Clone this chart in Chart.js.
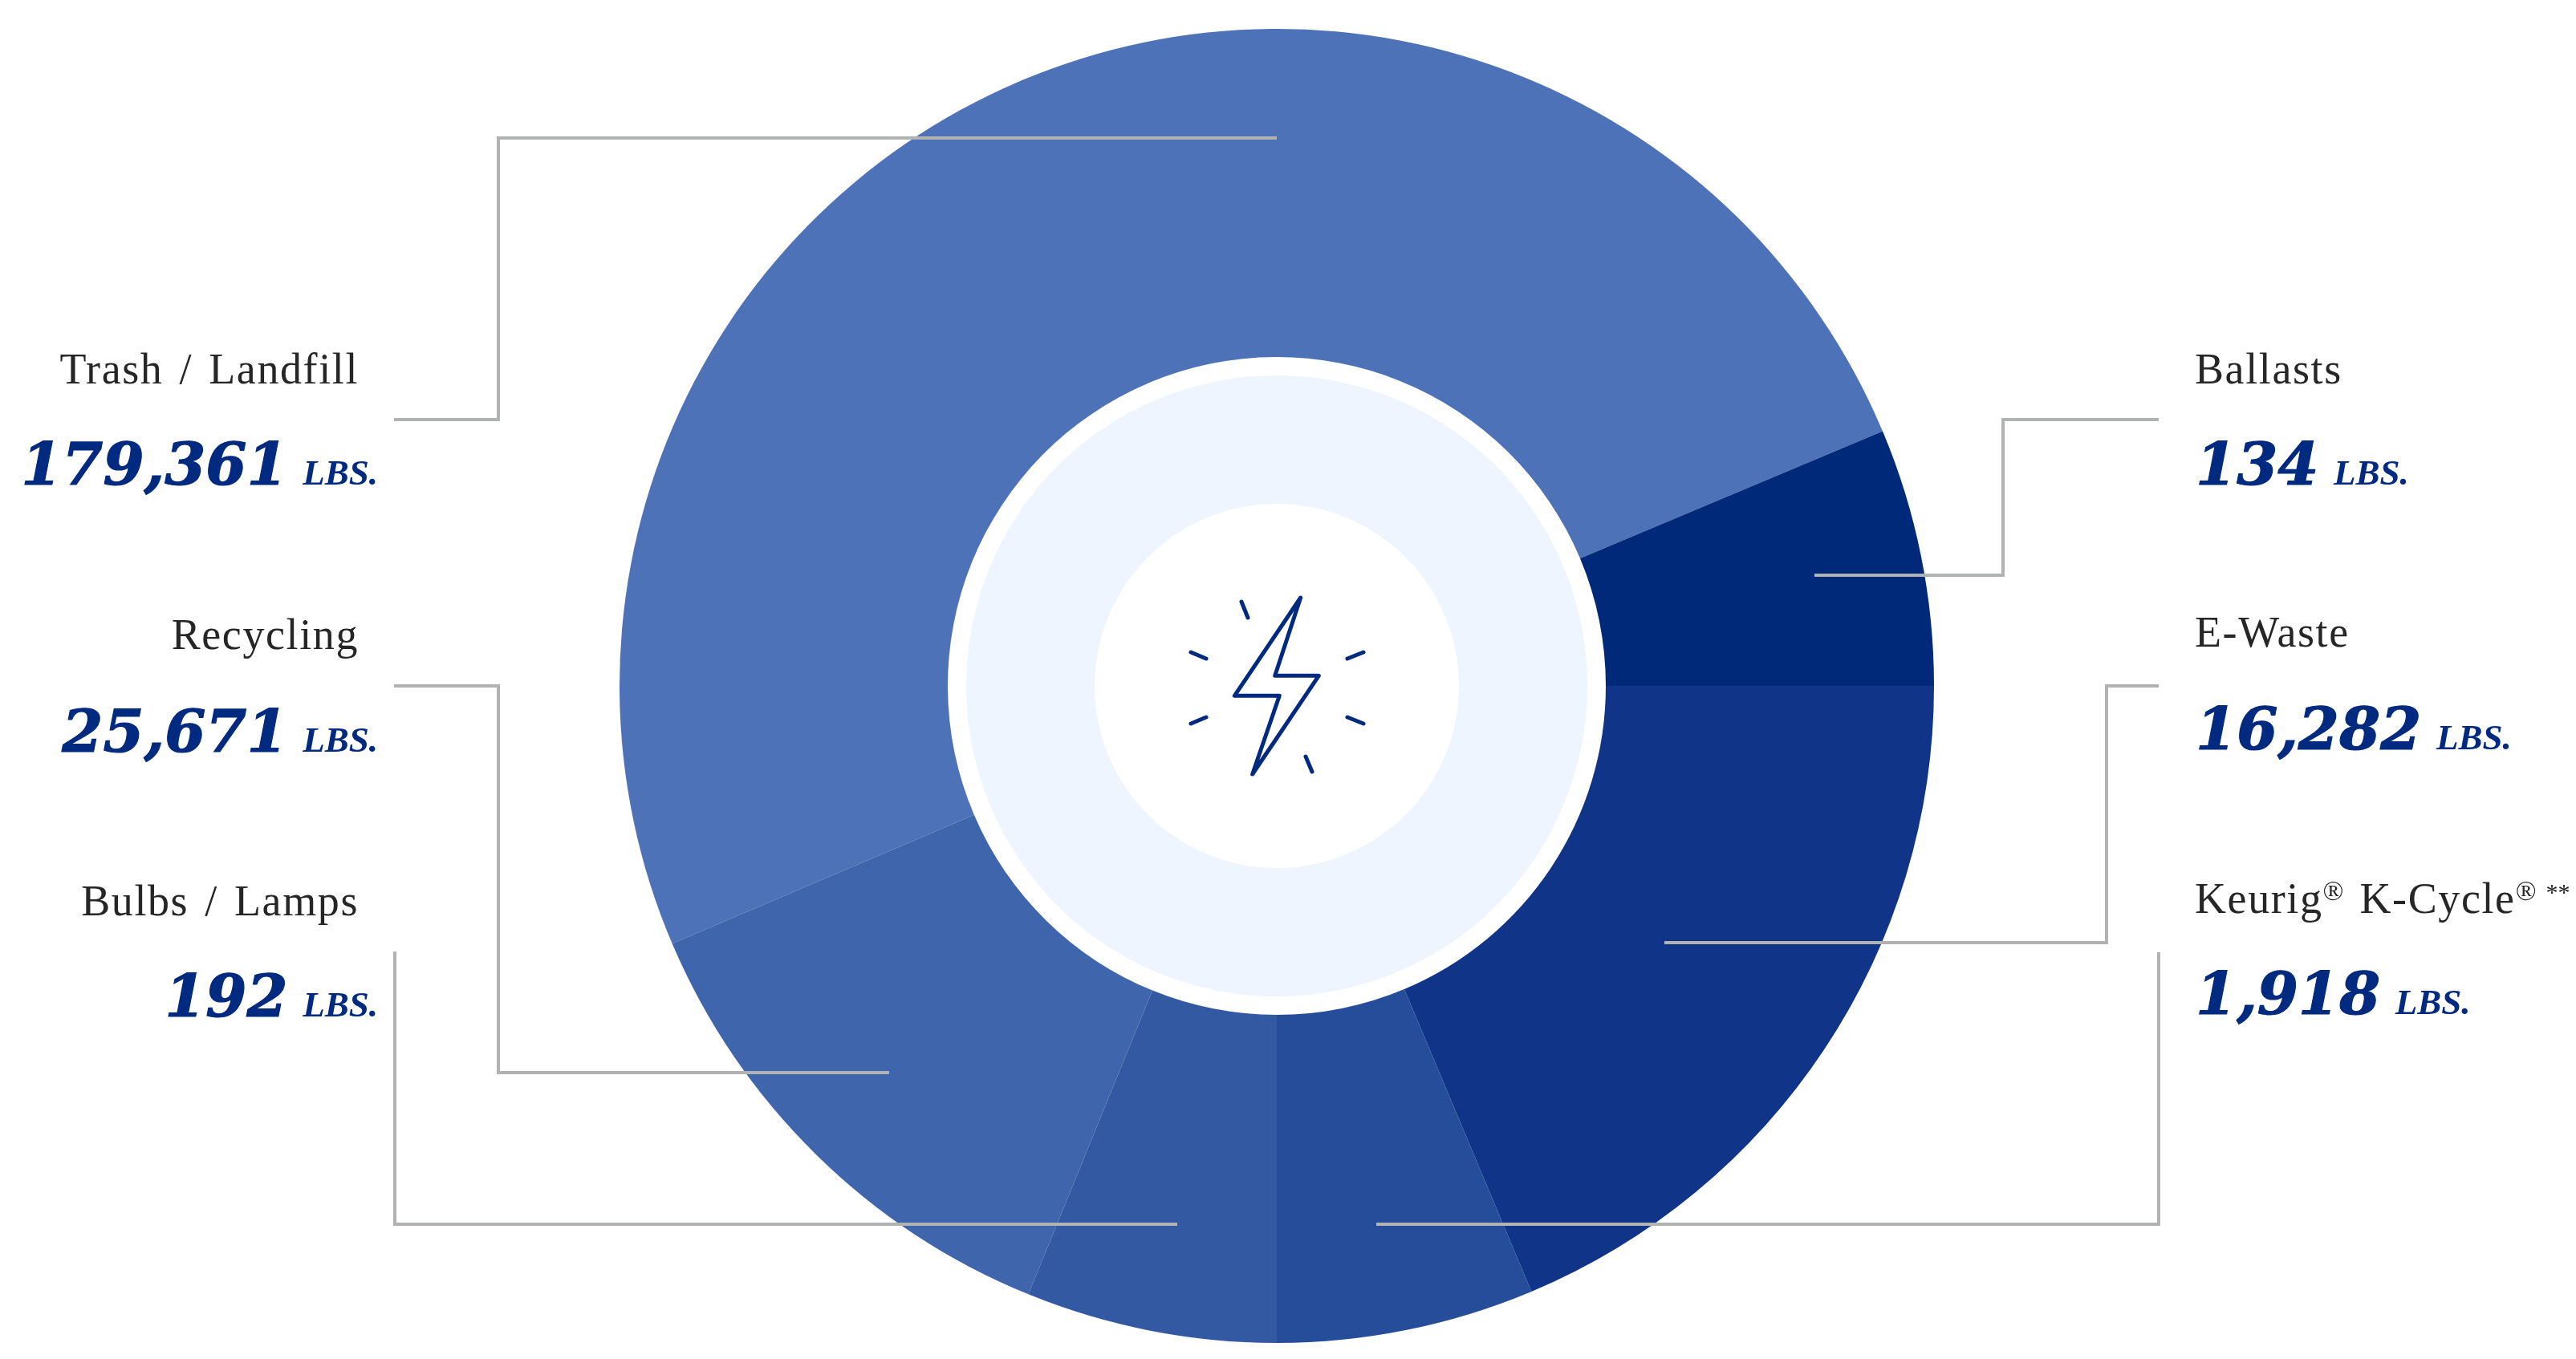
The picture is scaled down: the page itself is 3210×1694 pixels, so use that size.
<!DOCTYPE html>
<html>
<head>
<meta charset="utf-8">
<title>Waste by stream</title>
<script src="https://cdn.jsdelivr.net/npm/chart.js@4/dist/chart.umd.min.js"></script>
<style>
  html, body { margin: 0; background: #fff; }
  #wrap { position: relative; width: 3210px; height: 1694px; overflow: hidden; }
  canvas { position: absolute; left: 0; top: 0; }
  .lab, .num { position: absolute; white-space: nowrap; }
  .lab { font: 54px "Liberation Serif", serif; letter-spacing: 1.6px; word-spacing: 5px; color: #262626; }
  .lab sup { font-size: 34px; line-height: 0; vertical-align: 16px; letter-spacing: 0; }
  .lab sup.stars { font-size: 30px; margin-left: -8px; }
  .num { font: italic bold 73.5px "DejaVu Serif", serif; color: #002a7f; -webkit-text-stroke: 1.2px #002a7f; }
  .num span { font: italic bold 45px "Liberation Serif", serif; margin-left: -7px; -webkit-text-stroke: 0; }
</style>
</head>
<body>
<div id="wrap"><canvas id="chart" width="3210" height="1694"></canvas></div>
<script>
// clockwise from the start of the Trash slice
const categories = ["Trash / Landfill", "Ballasts", "E-Waste", "Keurig<sup>®</sup> K-Cycle<sup>®</sup> <sup class=\"stars\">**</sup>", "Bulbs / Lamps", "Recycling"];
const pounds = [179361, 134, 16282, 1918, 192, 25671];
// the slices in the picture are not proportional to the pounds, these are read off it
const sliceDegrees = [180.3, 22.8, 67.2, 22.8, 22.2, 44.7];
const sliceColors = ["#4e72b8", "#00297a", "#103588", "#264d9a", "#3359a3", "#3f65ac"];

// side, label baseline, number baseline
const labelSpots = [
  ["left", 477.5, 604],
  ["right", 477.5, 604],
  ["right", 806, 934],
  ["right", 1138, 1264],
  ["left", 1140.5, 1267],
  ["left", 809, 937]
];

// grey leader lines, page pixels
const leaders = [
  [[491, 523], [621, 523], [621, 172], [1591, 172]],
  [[491, 855], [621, 855], [621, 1337], [1108, 1337]],
  [[492, 1186], [492, 1526], [1467, 1526]],
  [[2690, 523], [2496, 523], [2496, 717], [2261, 717]],
  [[2690, 855], [2625, 855], [2625, 1175], [2074, 1175]],
  [[2690, 1187], [2690, 1526], [1715, 1526]]
];

// lightning icon, relative to the chart centre
const bolt = [[29.7, -110], [-52.7, 12.3], [3.3, 12.3], [-30.3, 110], [52.3, -12.7], [-2.3, -12.7]];
const rays = [
  [[-44, -105], [-36, -85]], [[-107, -42], [-88, -34]], [[-107, 47], [-88, 39]],
  [[108, -42], [88, -34]], [[108, 47], [88, 39]], [[36, 88], [44, 107]]
];

const centerPlugin = {
  id: "centerPlugin",
  beforeDatasetsDraw(chart) {
    const ctx = chart.ctx;
    const arc = chart.getDatasetMeta(0).data[0];
    ctx.save();
    ctx.fillStyle = "#eef5fe";
    ctx.beginPath();
    ctx.arc(arc.x, arc.y, 387, 0, Math.PI * 2);
    ctx.fill();
    ctx.fillStyle = "#ffffff";
    ctx.beginPath();
    ctx.arc(arc.x, arc.y, 227, 0, Math.PI * 2);
    ctx.fill();
    ctx.restore();
  },
  afterDatasetsDraw(chart) {
    const ctx = chart.ctx;
    const arc = chart.getDatasetMeta(0).data[0];
    ctx.save();
    // icon
    ctx.translate(arc.x, arc.y);
    ctx.strokeStyle = "#002a7f";
    ctx.lineWidth = 5;
    ctx.lineCap = "round";
    ctx.lineJoin = "round";
    ctx.beginPath();
    bolt.forEach((p, i) => i ? ctx.lineTo(p[0], p[1]) : ctx.moveTo(p[0], p[1]));
    ctx.closePath();
    ctx.stroke();
    rays.forEach(r => {
      ctx.beginPath();
      ctx.moveTo(r[0][0], r[0][1]);
      ctx.lineTo(r[1][0], r[1][1]);
      ctx.stroke();
    });
    ctx.restore();

    // leaders go over the slices
    ctx.save();
    ctx.strokeStyle = "#b1b3b3";
    ctx.lineWidth = 4;
    ctx.lineJoin = "miter";
    leaders.forEach(path => {
      ctx.beginPath();
      path.forEach((p, i) => i ? ctx.lineTo(p[0], p[1]) : ctx.moveTo(p[0], p[1]));
      ctx.stroke();
    });
    ctx.restore();
  }
};

new Chart(document.getElementById("chart").getContext("2d"), {
  type: "doughnut",
  data: {
    labels: categories,
    datasets: [{
      data: sliceDegrees,
      backgroundColor: sliceColors,
      borderWidth: 0
    }]
  },
  options: {
    responsive: false,
    animation: false,
    devicePixelRatio: 1,
    rotation: 246.9,
    cutout: 410,
    layout: { padding: { left: 772, right: 800, top: 36, bottom: 20 } },
    plugins: { legend: { display: false }, tooltip: { enabled: false } }
  },
  plugins: [centerPlugin]
});

// put an element so its text baseline sits on y
function setBaseline(el, y) {
  const strut = document.createElement("i");
  strut.style.cssText = "display:inline-block;width:0;height:0";
  el.appendChild(strut);
  el.style.top = "0px";
  const base = strut.getBoundingClientRect().bottom;
  el.removeChild(strut);
  el.style.top = (y - base) + "px";
}

const wrap = document.getElementById("wrap");
categories.forEach((name, i) => {
  const [side, labelY, numY] = labelSpots[i];
  const lab = document.createElement("div");
  lab.className = "lab";
  lab.innerHTML = name;
  const num = document.createElement("div");
  num.className = "num";
  num.innerHTML = pounds[i].toLocaleString("en-US") + " <span>LBS.</span>";
  if (side === "left") {
    lab.style.right = (3210 - 447) + "px";
    num.style.right = (3210 - 471) + "px";
  } else {
    lab.style.left = "2735px";
    num.style.left = "2736px";
  }
  wrap.appendChild(lab);
  wrap.appendChild(num);
  setBaseline(lab, labelY);
  setBaseline(num, numY);
});
</script>
</body>
</html>
